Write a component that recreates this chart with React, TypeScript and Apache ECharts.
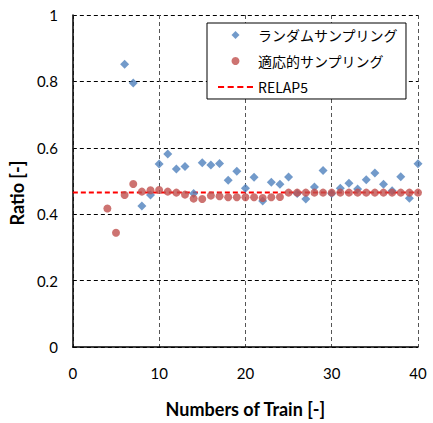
import React, { useEffect, useRef } from "react";
import * as echarts from "echarts";

const randomX = [6, 7, 8, 9, 10, 11, 12, 13, 14, 15, 16, 17, 18, 19, 20, 21, 22, 23, 24, 25, 26, 27, 28, 29, 30, 31, 32, 33, 34, 35, 36, 37, 38, 39, 40];
const randomY = [0.852, 0.795, 0.425, 0.458, 0.551, 0.581, 0.536, 0.544, 0.462, 0.555, 0.548, 0.553, 0.502, 0.529, 0.478, 0.511, 0.44, 0.496, 0.49, 0.512, 0.462, 0.446, 0.482, 0.532, 0.462, 0.478, 0.493, 0.476, 0.504, 0.524, 0.49, 0.471, 0.513, 0.448, 0.552];

const adaptiveX = [4, 5, 6, 7, 8, 9, 10, 11, 12, 13, 14, 15, 16, 17, 18, 19, 20, 21, 22, 23, 24, 25, 26, 27, 28, 29, 30, 31, 32, 33, 34, 35, 36, 37, 38, 39, 40];
const adaptiveY = [0.417, 0.344, 0.458, 0.491, 0.468, 0.472, 0.473, 0.468, 0.465, 0.459, 0.447, 0.446, 0.456, 0.454, 0.451, 0.451, 0.451, 0.451, 0.449, 0.451, 0.452, 0.465, 0.465, 0.465, 0.465, 0.465, 0.465, 0.465, 0.465, 0.465, 0.465, 0.465, 0.465, 0.465, 0.465, 0.465, 0.465];

const relapX = [0, 40];
const relapValue = 0.465;

const seriesNames = ["ランダムサンプリング", "適応的サンプリング", "RELAP5"];

const FONT = "Lato, 'Noto Sans CJK JP', sans-serif";
const CJK = "'Noto Sans CJK JP', sans-serif";

const DIAMOND_ICON = "path://M0,-1L1,0L0,1L-1,0Z";
const DASH_ICON = "path://M0,0h6v2h-6zM9.5,0h6v2h-6zM19,0h6v2h-6zM28.5,0h6v2h-6z";

export default function App() {
  const ref = useRef<HTMLDivElement>(null);
  useEffect(() => {
    if (!ref.current) return;
    const chart = echarts.init(ref.current, undefined, { renderer: "svg" });
    chart.setOption({
      animation: false,
      backgroundColor: "#fff",
      grid: { left: 72, right: 15, top: 15, bottom: 72 },
      legend: {
        data: [
          { name: seriesNames[0], icon: DIAMOND_ICON },
          { name: seriesNames[1], icon: "circle" },
          { name: seriesNames[2], icon: DASH_ICON },
        ],
        orient: "vertical",
        left: 207,
        top: 23,
        itemWidth: 35,
        itemHeight: 8,
        itemGap: 12,
        padding: [5, 8, 5, 11],
        borderColor: "#000",
        borderWidth: 1,
        backgroundColor: "#fff",
        textStyle: { fontFamily: CJK, fontSize: 14, color: "#000" },
      },
      xAxis: {
        type: "value",
        min: 0,
        max: 40,
        interval: 10,
        name: "Numbers of Train [-]",
        nameLocation: "middle",
        nameGap: 53,
        nameTextStyle: { fontFamily: FONT, fontSize: 18, fontWeight: "bold", color: "#000" },
        axisLine: { show: true, lineStyle: { color: "#000", width: 1.5 } },
        axisTick: { show: false },
        axisLabel: { fontFamily: FONT, fontSize: 15, color: "#000", margin: 18 },
        splitLine: { show: true, lineStyle: { color: "#555", type: [4, 3], width: 1 } },
      },
      yAxis: {
        type: "value",
        min: 0,
        max: 1,
        interval: 0.2,
        name: "Ratio [-]",
        nameLocation: "middle",
        nameGap: 36,
        nameTextStyle: { fontFamily: FONT, fontSize: 18, fontWeight: "bold", color: "#000", padding: [0, 24, 0, 0] },
        axisLine: { show: true, lineStyle: { color: "#000", width: 1.5 } },
        axisTick: { show: false },
        axisLabel: { fontFamily: FONT, fontSize: 15, color: "#000", margin: 15 },
        splitLine: { show: true, lineStyle: { color: "#000", type: [4, 3], width: 1 } },
      },
      series: [
        {
          name: seriesNames[2],
          type: "line",
          data: relapX.map((x) => [x, relapValue]),
          symbol: "none",
          lineStyle: { color: "#FF0000", width: 2, type: [5, 3] },
          itemStyle: { color: "#FF0000" },
          z: 2,
        },
        {
          name: seriesNames[0],
          type: "scatter",
          data: randomX.map((x, i) => [x, randomY[i]]),
          symbol: "diamond",
          symbolSize: 9,
          itemStyle: { color: "#4F81BD" },
          z: 3,
        },
        {
          name: seriesNames[1],
          type: "scatter",
          data: adaptiveX.map((x, i) => [x, adaptiveY[i]]),
          symbol: "circle",
          symbolSize: 8,
          itemStyle: { color: "#C0504D" },
          z: 4,
        },
      ],
    });
    return () => chart.dispose();
  }, []);
  return <div ref={ref} style={{ position: "fixed", left: 0, top: 0, width: 433, height: 423 }} />;
}
